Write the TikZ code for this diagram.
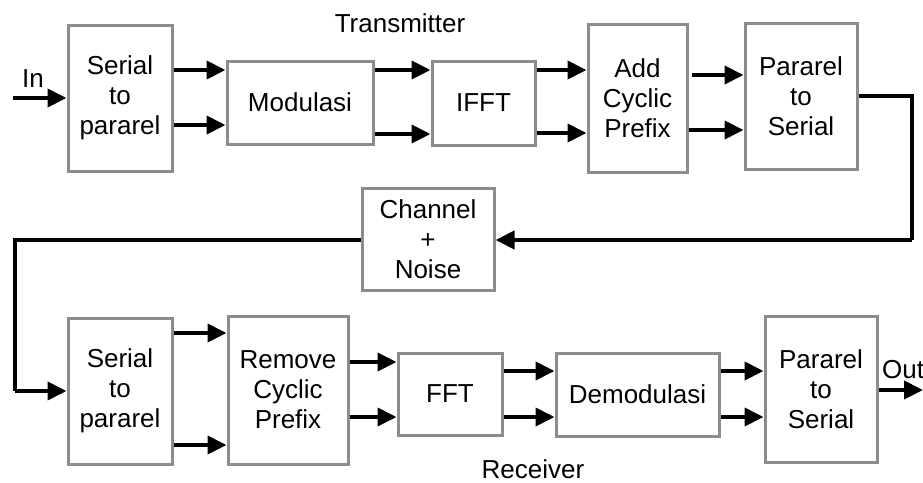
\documentclass[tikz,border=0pt]{standalone}
\usepackage{fontspec}
\setmainfont{Liberation Sans}
\usetikzlibrary{arrows.meta,positioning}

\tikzset{
  block/.style={draw=gray!90, line width=3pt, rectangle, fill=white, align=center, inner sep=0pt},
  lbl/.style={anchor=base, inner sep=0pt},
  arr/.style={line width=4pt, -{Triangle[length=19pt,width=18pt]}},
  wire/.style={line width=4pt}
}

\begin{document}
\begin{tikzpicture}[x=1pt, y=-1pt, font=\fontsize{26}{30}\selectfont]
        \useasboundingbox (0,0) rectangle (923,482);

        % Transmitter
        \node (tx) [lbl] at (400,32) {Transmitter};
        \node (sp1) [block, minimum width=104pt, minimum height=146pt] at (120,98) {Serial\\to\\pararel};
        \node (mod) [block, minimum width=146pt, minimum height=83pt] at (300,102.5) {Modulasi};
        \node (ifft) [block, minimum width=103pt, minimum height=84pt] at (483.5,103) {IFFT};
        \node (acp) [block, minimum width=99pt, minimum height=148pt] at (637.5,98) {Add\\Cyclic\\Prefix};
        \node (ps1) [block, minimum width=112pt, minimum height=146pt] at (801,96) {Pararel\\to\\Serial};

        % Channel
        \node (chan) [block, minimum width=132pt, minimum height=102pt] at (428,239) {Channel\\+\\Noise};

        % Receiver
        \node (sp2) [block, minimum width=104pt, minimum height=146pt] at (120,391) {Serial\\to\\pararel};
        \node (rcp) [block, minimum width=120pt, minimum height=148pt] at (288,390) {Remove\\Cyclic\\Prefix};
        \node (fft) [block, minimum width=104pt, minimum height=82pt] at (450,394) {FFT};
        \node (demod) [block, minimum width=163pt, minimum height=83pt] at (637.5,394.5) {Demodulasi};
        \node (ps2) [block, minimum width=112pt, minimum height=146pt] at (821,389) {Pararel\\to\\Serial};
        \node (rx) [lbl] at (533,478) {Receiver};

        % In / Out
        \coordinate (in) at (13,98);
        \node (inlbl) [lbl] at (33,87) {In};
        \coordinate (out) at (923,390);
        \node (outlbl) [lbl, anchor=base west] at (882,378) {Out};

        % Corners
        \coordinate (cr1) at (912,96);
        \coordinate (cr2) at (912,240);
        \coordinate (cl1) at (15,240);
        \coordinate (cl2) at (15,391);

        % Arrows
        \draw [arr] (in) -- (sp1);
        \draw [arr] (sp1.east |- 0,70) -- (mod.west |- 0,70);
        \draw [arr] (sp1.east |- 0,125) -- (mod.west |- 0,125);
        \draw [arr] (mod.east |- 0,70) -- (ifft.west |- 0,70);
        \draw [arr] (mod.east |- 0,134) -- (ifft.west |- 0,134);
        \draw [arr] (ifft.east |- 0,70) -- (acp.west |- 0,70);
        \draw [arr] (ifft.east |- 0,133) -- (acp.west |- 0,133);
        \draw [arr] ([xshift=3pt]acp.east |- 0,75) -- (ps1.west |- 0,75);
        \draw [arr] (acp.east |- 0,130) -- (ps1.west |- 0,130);
        \draw [wire] (ps1.east |- cr1) -- (cr1) -- (cr2);
        \draw [arr] (cr2) -- (chan.east |- cr2);
        \draw [wire] (chan.west |- cl1) -- (cl1) -- (cl2);
        \draw [arr] (cl2) -- (sp2.west |- cl2);
        \draw [arr] (sp2.east |- 0,333) -- (rcp.west |- 0,333);
        \draw [arr] (sp2.east |- 0,445) -- (rcp.west |- 0,445);
        \draw [arr] (rcp.east |- 0,362) -- (fft.west |- 0,362);
        \draw [arr] (rcp.east |- 0,417) -- (fft.west |- 0,417);
        \draw [arr] (fft.east |- 0,371) -- (demod.west |- 0,371);
        \draw [arr] (fft.east |- 0,417) -- (demod.west |- 0,417);
        \draw [arr] (demod.east |- 0,371) -- (ps2.west |- 0,371);
        \draw [arr] (demod.east |- 0,417) -- (ps2.west |- 0,417);
        \draw [arr] (ps2.east |- out) -- (out);
    \end{tikzpicture}
\end{document}
